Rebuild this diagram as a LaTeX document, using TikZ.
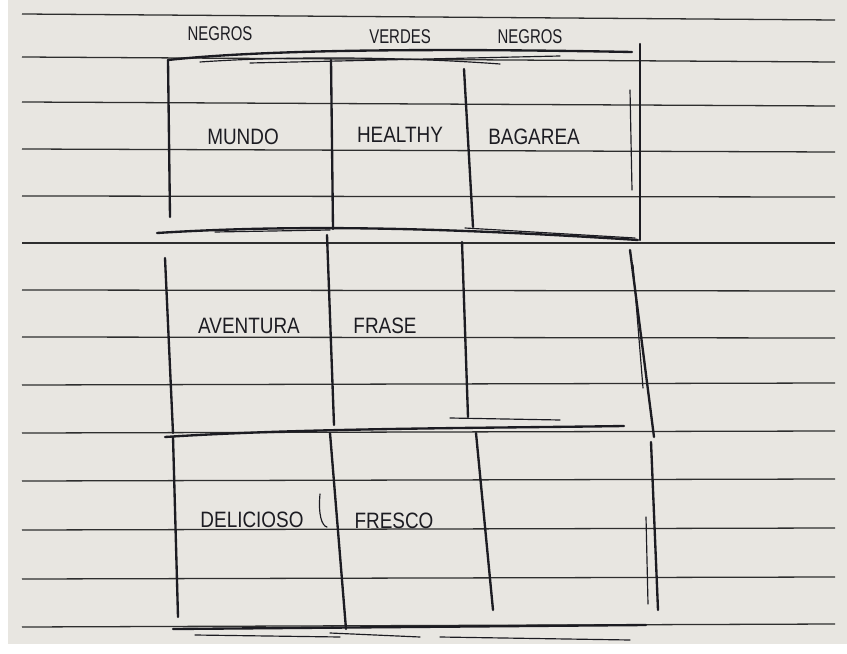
\documentclass[tikz,border=0pt]{standalone}
\usepackage{fontspec}
\setmainfont{Liberation Sans}
\newfontfamily\handfont[FakeStretch=0.85]{Liberation Sans}
\newfontfamily\headfont[FakeStretch=0.75]{Liberation Sans}
\definecolor{paper}{HTML}{E8E6E1}
\definecolor{ink}{HTML}{1C1C22}
\definecolor{ruling}{HTML}{2E2E2E}

\begin{document}
\begin{tikzpicture}[
  x=0.03cm, y=-0.03cm,
  rule/.style={draw=ruling,line width=1.1pt},
  penline/.style={draw=ink,line width=2pt,line cap=round},
  penthin/.style={draw=ink,line width=1pt,line cap=round},
  cell/.style={font=\handfont\fontsize{19}{21}\selectfont,text=ink,inner sep=0pt},
  heading/.style={font=\headfont\fontsize{17}{19}\selectfont,text=ink,inner sep=0pt}
]
\useasboundingbox[fill=white] (0,0) rectangle (847,654);
\fill[paper] (8,0) rectangle (847,644);
\foreach \ya/\yb in {14/20, 57/62, 102/106, 149/152, 196/197, 243/243, 290/291, 337/338, 385/383, 433/431, 481/479, 530/528, 579/577, 627/624}
  \draw[rule] (22,\ya) -- (835,\yb);

\node[heading] (hneg1) at (220,34) {NEGROS};
\node[heading] (hverd) at (400,37) {VERDES};
\node[heading] (hneg2) at (530,37) {NEGROS};

\node[cell] (mundo) at (243,137) {MUNDO};
\node[cell] (healthy) at (400,135) {HEALTHY};
\node[cell] (bagarea) at (534,137) {BAGAREA};
\node[cell] (aventura) at (249,326) {AVENTURA};
\node[cell] (frase) at (385,326) {FRASE};
\node[cell] (delicioso) at (252,520) {DELICIOSO};
\node[cell] (fresco) at (394,521) {FRESCO};

\draw[penline] (168,60) .. controls (260,50) and (420,48) .. (632,52);
\draw[penthin] (200,62) .. controls (300,55) and (420,58) .. (500,64);
\draw[penthin] (250,63) -- (560,56);

\draw[penline] (168,60) -- (170,217);
\draw[penline] (331,60) -- (333,229);
\draw[penline] (464,69) -- (473,227);
\draw[penline] (640,44) -- (640,240);
\draw[penthin] (630,90) -- (632,190);

\draw[penline] (157,233) .. controls (300,224) and (450,228) .. (638,240);
\draw[penthin] (215,232) -- (330,230);
\draw[penthin] (465,228) -- (635,238);

\draw[penline] (165,258) -- (173,433);
\draw[penline] (327,235) -- (334,425);
\draw[penline] (462,242) -- (468,417);
\draw[penline] (630,250) -- (654,437);
\draw[penthin] (633,265) -- (643,388);

\draw[penline] (165,437) .. controls (300,428) and (500,428) .. (624,426);
\draw[penthin] (450,418) -- (560,420);

\draw[penline] (173,437) -- (178,617);
\draw[penline] (330,433) -- (346,629);
\draw[penline] (476,433) -- (493,610);
\draw[penline] (651,442) -- (658,610);
\draw[penthin] (646,517) -- (648,604);
\draw[penthin] (320,494) .. controls (318,515) and (322,526) .. (327,527);

\draw[penline] (173,629) -- (646,625);
\draw[penthin] (195,635) -- (340,637);
\draw[penthin] (330,633) -- (420,637);
\draw[penthin] (440,637) -- (630,640);
\end{tikzpicture}
\end{document}
